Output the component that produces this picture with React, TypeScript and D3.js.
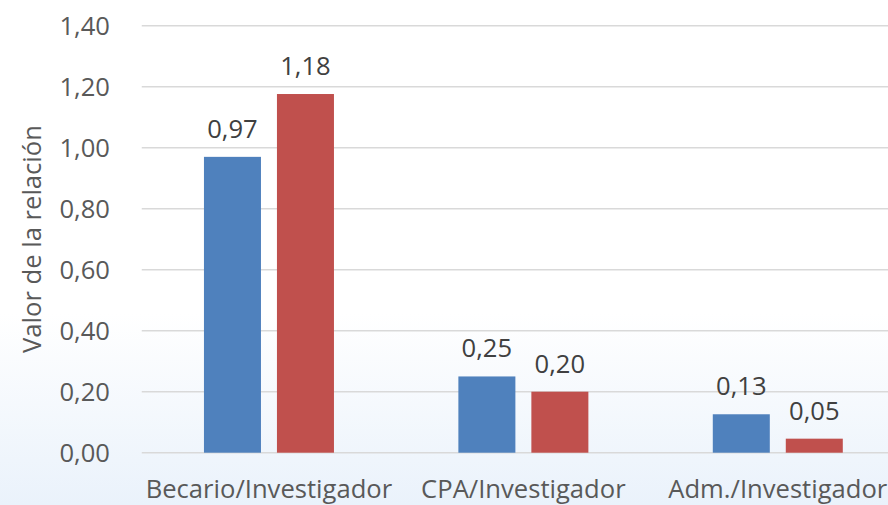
import React from "react";
import * as d3 from "d3";

const categories = ["Becario/Investigador", "CPA/Investigador", "Adm./Investigador"];
const series = ["Serie 1", "Serie 2"];
const serie1 = [0.97, 0.25, 0.126];
const serie2 = [1.176, 0.2, 0.046];
const yTicks = [0, 0.2, 0.4, 0.6, 0.8, 1.0, 1.2, 1.4];
const colors = ["#4F81BD", "#C0504D"];

const W = 888;
const H = 505;
const FONT = "'Open Sans', sans-serif";
const FS = 25.6;

export default function App() {
  const y = d3.scaleLinear().domain([0, 1.4]).range([452.7, 25.7]);
  const x0 = d3.scaleBand<string>().domain(categories).range([141.75, 905]).padding(0);
  const groupW = 130;
  const x1 = d3.scaleBand<string>().domain(series).range([0, groupW]).paddingInner(0.219).paddingOuter(0);
  const fmt = (v: number) => v.toFixed(2).replace(".", ",");
  const values = [serie1, serie2];

  return (
    <div style={{ position: "fixed", left: 0, top: 0 }}>
      <svg width={W} height={H} style={{ display: "block" }}>
        <defs>
          <linearGradient id="bg" x1="0" y1="0" x2="0" y2="1">
            <stop offset="0" stopColor="#ffffff" />
            <stop offset="0.62" stopColor="#ffffff" />
            <stop offset="1" stopColor="#eaf2fb" />
          </linearGradient>
        </defs>
        <rect x={0} y={0} width={W} height={H} fill="url(#bg)" />
        {yTicks.map((t) => (
          <g key={t}>
            <line x1={141.75} x2={W} y1={y(t)} y2={y(t)} stroke="#d9d9d9" strokeWidth={1.5} />
            <text x={110} y={y(t)} dy="0.35em" textAnchor="end" fontFamily={FONT} fontSize={FS} fill="#595959">
              {fmt(t)}
            </text>
          </g>
        ))}
        {categories.map((c, i) => {
          const gx = (x0(c) as number) + (x0.bandwidth() - groupW) / 2;
          return (
            <g key={c}>
              {series.map((s, j) => {
                const v = values[j][i];
                const bx = gx + (x1(s) as number);
                return (
                  <g key={s}>
                    <rect x={bx} y={y(v)} width={x1.bandwidth()} height={y(0) - y(v)} fill={colors[j]} />
                    <text x={bx + x1.bandwidth() / 2} y={y(v) - 19} textAnchor="middle" fontFamily={FONT} fontSize={FS} fill="#404040">
                      {fmt(v)}
                    </text>
                  </g>
                );
              })}
              <text x={(x0(c) as number) + x0.bandwidth() / 2} y={497.5} textAnchor="middle" fontFamily={FONT} fontSize={FS} fill="#595959">
                {c}
              </text>
            </g>
          );
        })}
        <text transform="translate(41,239) rotate(-90)" textAnchor="middle" fontFamily={FONT} fontSize={FS} fill="#595959">
          Valor de la relación
        </text>
      </svg>
    </div>
  );
}
